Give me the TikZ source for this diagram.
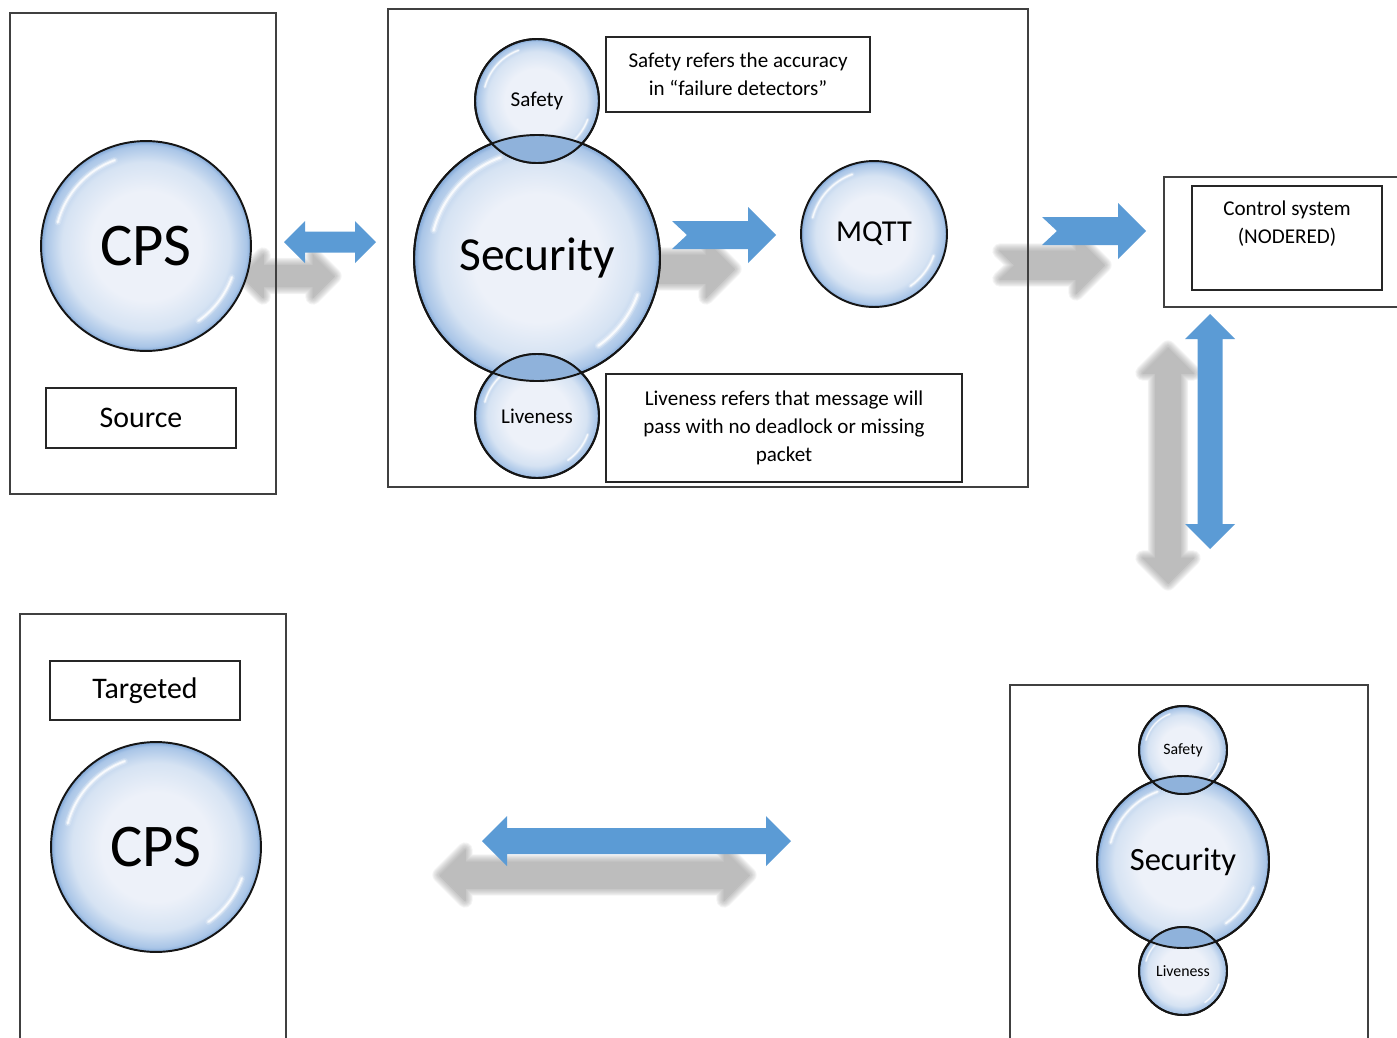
\documentclass[tikz,border=0pt]{standalone}
\usepackage{fontspec}
\setmainfont{Carlito}
\usetikzlibrary{calc}

\definecolor{arrowBlue}{HTML}{5B9BD5}
\definecolor{shadowGray}{HTML}{8C8C8C}
\definecolor{frameGray}{HTML}{404040}
\definecolor{bubLine}{HTML}{151515}
\definecolor{bubIn}{HTML}{EDF1F9}
\definecolor{bubMid}{HTML}{D6E3F3}
\definecolor{bubOut}{HTML}{A9C5E7}
\definecolor{bubRim}{HTML}{7EA5D5}
\definecolor{lensBlue}{HTML}{8FB2DB}

\pgfdeclareradialshading{bubble}{\pgfpointorigin}{color(0bp)=(bubIn); color(13bp)=(bubIn); color(20bp)=(bubMid); color(24bp)=(bubOut); color(25bp)=(bubRim); color(50bp)=(bubRim)}

% block arrow outlines: tip, tip, half shaft, head size (notch depth)
\newcommand{\dblpath}[4]{(#1) -- ++(#4,-#4) -- ++(0,#4-#3) -- ($(#2)+(-#4,-#3)$) -- ++(0,#3-#4) -- (#2) -- ++(-#4,#4) -- ++(0,#3-#4) -- ($(#1)+(#4,#3)$) -- ++(0,#4-#3) -- cycle}
\newcommand{\vdblpath}[4]{(#1) -- ++(-#4,#4) -- ++(#4-#3,0) -- ($(#2)+(-#3,-#4)$) -- ++(#3-#4,0) -- (#2) -- ++(#4,-#4) -- ++(#3-#4,0) -- ($(#1)+(#3,#4)$) -- ++(#4-#3,0) -- cycle}
\newcommand{\notchpath}[5]{(#1) ++(0,-#3) -- ($(#2)+(-#4,-#3)$) -- ++(0,#3-#4) -- (#2) -- ++(-#4,#4) -- ++(0,#3-#4) -- ($(#1)+(0,#3)$) -- ++(#5,-#3) -- cycle}

\begin{document}
\begin{tikzpicture}[x=0.02cm, y=-0.02cm,
    frame/.style={draw=frameGray, line width=0.7pt, inner sep=0pt},
    note/.style={draw=black!85, line width=0.75pt, inner sep=0pt, align=center, font=\fontsize{12}{15.9}\selectfont},
    bubble/.style={circle, draw=bubLine, line width=1.1pt, shading=bubble, inner sep=0pt, minimum size=#1*0.04cm,
        path picture={
            \foreach \w/\o in {3/.2, 1.8/.4, 0.8/.8} {
                \draw[white, opacity=\o, line width=\w*#1*0.0004cm, line cap=round]
                    (path picture bounding box.center) ++(195:0.87*#1) arc[start angle=195, end angle=250, radius=0.87*#1];
                \draw[white, opacity=\o, line width=\w*#1*0.0004cm, line cap=round]
                    (path picture bounding box.center) ++(20:0.87*#1) arc[start angle=20, end angle=55, radius=0.87*#1];
            }
        }},
    lens/.style={fill=lensBlue},
    blockarrow/.style={fill=arrowBlue},
    blur/.style={fill=shadowGray, draw=shadowGray, line join=round}
]
\useasboundingbox (0,0) rectangle (1397,1038);

% arrow end points
\coordinate (srcL) at (284,242);
\coordinate (srcR) at (376,242);
\coordinate (midT) at (672,235);
\coordinate (midH) at (776,235);
\coordinate (outT) at (1042,231);
\coordinate (outH) at (1146,231);
\coordinate (ctlUp) at (1210,314);
\coordinate (ctlDn) at (1210,549);
\coordinate (botL) at (482,841);
\coordinate (botR) at (791,841);

% soft shadows under the arrows
\begin{scope}[transform canvas={shift={(-42,34)}}]
\foreach \w in {0,1.1,...,9.9} {
  \begin{scope}[transparency group, opacity=.09]
    \path[blur, line width=\w pt] \dblpath{srcL}{srcR}{10.5}{21};
    \path[blur, line width=\w pt] \notchpath{midT}{midH}{14}{28}{15};
    \path[blur, line width=\w pt] \notchpath{outT}{outH}{14}{28}{15};
    \path[blur, line width=\w pt] \vdblpath{ctlUp}{ctlDn}{12.5}{25};
    \path[blur, line width=\w pt] \dblpath{botL}{botR}{13}{25};
  \end{scope}
}
\end{scope}

% Frames
\node[frame, minimum width=5.32cm, minimum height=9.62cm] (srcBox) at (143,253.5) {};
\node[frame, minimum width=12.8cm, minimum height=9.56cm] (secBox) at (708,248) {};
\node[frame, minimum width=4.82cm, minimum height=2.6cm] (ctlBox) at (1284.5,242) {};
\node[frame, minimum width=5.32cm, minimum height=8.62cm] (tgtBox) at (153,829.5) {};
\node[frame, minimum width=7.16cm, minimum height=7.2cm] (secBox2) at (1189,865) {};

% Arrows
\fill[blockarrow] \dblpath{srcL}{srcR}{10.5}{21};
\fill[blockarrow] \notchpath{midT}{midH}{14}{28}{15};
\fill[blockarrow] \notchpath{outT}{outH}{14}{28}{15};
\fill[blockarrow] \vdblpath{ctlUp}{ctlDn}{12.5}{25};
\fill[blockarrow] \dblpath{botL}{botR}{13}{25};

% Bubbles
\node[bubble=105, font=\fontsize{34.5}{40}\selectfont] (cpsA) at (146,246) {CPS};
\node[bubble=123, font=\fontsize{27}{30}\selectfont] (sec) at (537,258) {Security};
\node[bubble=62, font=\fontsize{12}{14}\selectfont] (safe) at (537,101) {Safety};
\node[bubble=62, font=\fontsize{12}{14}\selectfont] (live) at (537,416) {Liveness};
\node[bubble=73, font=\fontsize{17.3}{20}\selectfont] (mqtt) at (874,234) {MQTT};
\node[bubble=105, font=\fontsize{34.5}{40}\selectfont] (cpsB) at (156,847) {CPS};
\node[bubble=86, font=\fontsize{18.5}{22}\selectfont] (sec2) at (1183,862) {Security};
\node[bubble=44, font=\fontsize{9}{11}\selectfont] (safe2) at (1183,750) {Safety};
\node[bubble=44, font=\fontsize{9}{11}\selectfont] (live2) at (1183,971) {Liveness};

% overlaps
\begin{scope}
    \clip (sec.center) circle (123);
    \fill[lens] (safe.center) circle (62) (live.center) circle (62);
\end{scope}
\draw[bubLine, line width=1.1pt] (sec.center) circle (123) (safe.center) circle (62) (live.center) circle (62);
\begin{scope}
    \clip (sec2.center) circle (86);
    \fill[lens] (safe2.center) circle (44) (live2.center) circle (44);
\end{scope}
\draw[bubLine, line width=1.1pt] (sec2.center) circle (86) (safe2.center) circle (44) (live2.center) circle (44);

% Labels
\node[note, minimum width=3.8cm, minimum height=1.2cm, font=\fontsize{17}{20}\selectfont] (srcTag) at (141,418) {Source};
\node[note, minimum width=3.8cm, minimum height=1.18cm, font=\fontsize{17}{20}\selectfont] (tgtTag) at (145,690.5) {Targeted};
\node[note, minimum width=5.28cm, minimum height=1.5cm] (safeNote) at (738,74.5) {Safety refers the accuracy\\in “failure detectors”};
\node[note, minimum width=7.12cm, minimum height=2.16cm] (liveNote) at (784,428) {Liveness refers that message will\\pass with no deadlock or missing\\packet};
\node[note, minimum width=3.8cm, minimum height=2.08cm] (ctl) at (1287,238) {};
\node[font=\fontsize{12}{15.9}\selectfont, align=center] (ctlText) at (1287,224) {Control system\\(NODERED)};

\end{tikzpicture}
\end{document}
